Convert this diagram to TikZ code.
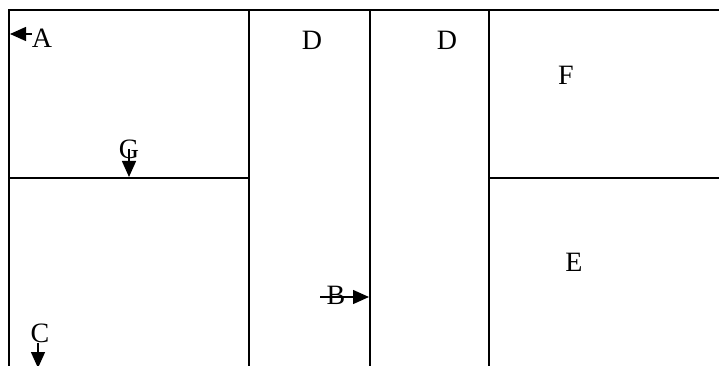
\documentclass[tikz,border=0pt]{standalone}
\usepackage{fontspec}
\setmainfont{Liberation Serif}
\usetikzlibrary{arrows.meta, positioning}
\tikzset{
    wall/.style   ={line width=1.5pt, draw=black},
    roomlbl/.style={inner sep=0pt, font=\fontsize{28}{32}\selectfont},
    pointer/.style={-{Triangle[length=16pt, width=14pt]}, line width=1.4pt},
}

\begin{document}
\begin{tikzpicture}[x=1pt, y=-1pt]
        \useasboundingbox (0,0) rectangle (719,366);
        % frame and partitions
        \draw[wall] (719,10) -- (9,10) -- (9,366);
        \foreach \xx in {249,370,489} \draw[wall] (\xx,10) -- (\xx,366);
        \draw[wall] (9,178) -- (249,178);
        \draw[wall] (489,178) -- (719,178);
        % labels
        \node[roomlbl] (A) at (42,38) {A};
        \node[roomlbl] (D1) at (312,40) {D};
        \node[roomlbl] (D2) at (447,40) {D};
        \node[roomlbl] (F) at (566,75) {F};
        \node[roomlbl] (G) at (129,149) {G};
        \node[roomlbl] (E) at (574,262) {E};
        \node[roomlbl] (B) at (336,295) {B};
        \node[roomlbl] (C) at (40,333) {C};
        % pointers
        \coordinate (Atip) at (10,34);
        \coordinate (Gtip) at (129,177);
        \coordinate (Btail) at (320,297);
        \coordinate (Btip) at (369,297);
        \coordinate (Ctip) at (38,368);
        \draw[pointer] (A.west |- Atip) -- (Atip);
        \draw[pointer] (G.center) -- (Gtip);
        \draw[pointer] (Btail) -- (Btip);
        \draw[pointer] (C.south -| Ctip) -- (Ctip);
    \end{tikzpicture}
\end{document}
